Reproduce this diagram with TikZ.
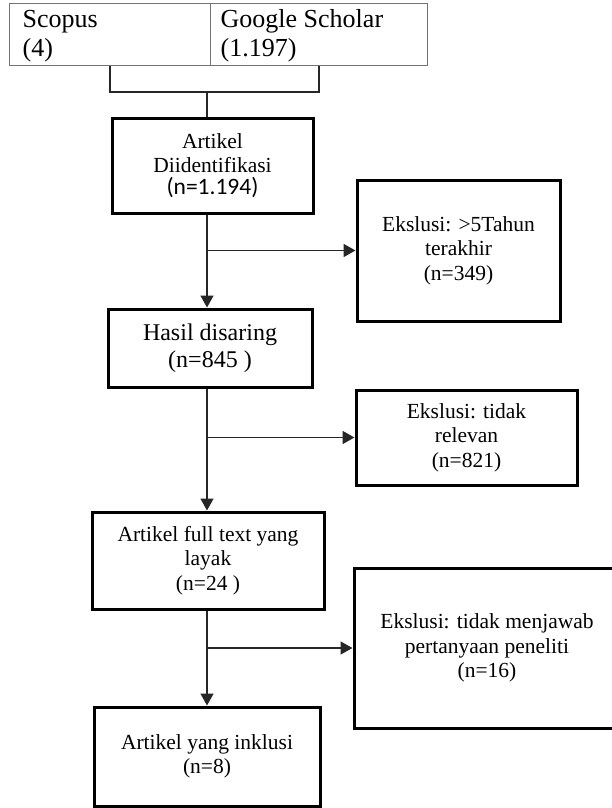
\documentclass[tikz,border=0pt]{standalone}
\usepackage{fontspec}
\setmainfont{Liberation Serif}
\newfontfamily\calibrifont{Carlito}
\usetikzlibrary{arrows.meta}

\begin{document}
\begin{tikzpicture}[x=1pt,y=-1pt,
    srcbox/.style={draw=black!55, line width=1.3pt, anchor=north west, minimum height=62pt, inner sep=0pt},
    srctext/.style={anchor=base west, inner sep=0pt, align=left, font=\fontsize{26}{29}\selectfont},
    stepbox/.style={draw=black, line width=3pt, inner sep=0pt, align=center,
        font=\fontsize{21.5}{24.5}\selectfont},
    link/.style={draw=black!85, line width=1.6pt},
    arr/.style={link, -{Triangle[width=13pt,length=12pt]}}]
        \useasboundingbox (0,0) rectangle (611,808);

        % Sources
        \node[srcbox, minimum width=201pt] (scopus) at (9,3) {};
        \node[srcbox, minimum width=217pt] (google) at (210,3) {};
        \node[srctext] (scopustxt) at (22.5,56.5) {Scopus\\(4)};
        \node[srctext] (googletxt) at (220.5,56.5) {Google Scholar\\(1.197)};

        % Main steps
        \node[stepbox, minimum width=201pt, minimum height=95pt] (ident) at (212.5,165.5)
            {Artikel\\[-0.5pt]Diidentifikasi\\[-2pt]{\calibrifont\fontsize{23.5}{24}\selectfont (n=1.194)}};
        \node[stepbox, minimum width=204pt, minimum height=78pt, font=\fontsize{24}{27}\selectfont] (hasil) at (210,348)
            {Hasil disaring\\(n=845 )};
        \node[stepbox, minimum width=232pt, minimum height=97pt] (layak) at (208,560.5)
            {Artikel full text yang\\layak\\(n=24 )};
        \node[stepbox, minimum width=226pt, minimum height=99pt] (inklusi) at (207,756.5)
            {Artikel yang inklusi\\(n=8)};

        % Exclusions
        \node[stepbox, minimum width=203pt, minimum height=141pt] (excl1) at (458.5,250.5)
            {Ekslusi: >5Tahun\\terakhir\\(n=349)};
        \node[stepbox, minimum width=221pt, minimum height=95pt] (excl2) at (466.5,437.5)
            {Ekslusi: tidak\\relevan\\(n=821)};
        \node[stepbox, minimum width=266pt, minimum height=160pt] (excl3) at (487,648)
            {Ekslusi: tidak menjawab\\pertanyaan peneliti\\(n=16)};

        % Connectors
        \coordinate (join) at (207,92);
        \coordinate (spine) at (207,0);
        \draw[link] (scopus.south) |- (join) -| (google.south);
        \draw[link] (join) -- (ident.north -| join);
        \draw[arr] (ident.south -| spine) -- (hasil.north -| spine);
        \draw[arr] (hasil.south -| spine) -- (layak.north -| spine);
        \draw[arr] (layak.south -| spine) -- (inklusi.north -| spine);
        \draw[arr] (spine |- excl1.west) -- (excl1.west);
        \draw[arr] (spine |- excl2.west) -- (excl2.west);
        \draw[arr] (spine |- excl3.west) -- (excl3.west);
    \end{tikzpicture}
\end{document}
